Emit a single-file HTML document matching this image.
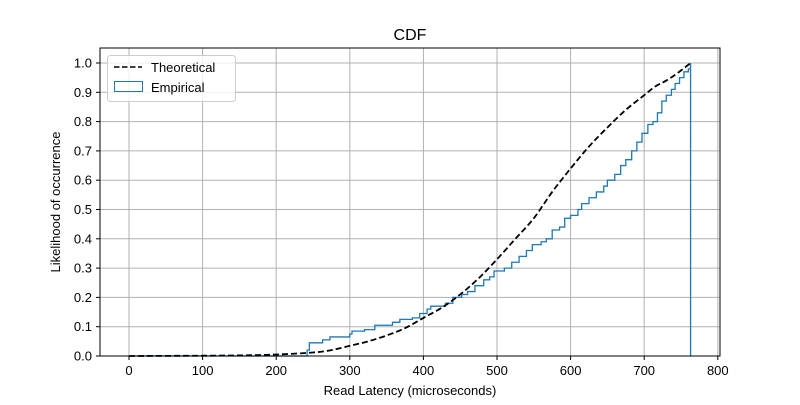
<!DOCTYPE html>
<html><head><meta charset="utf-8"><style>
body{margin:0;background:#fff;font-family:"Liberation Sans","DejaVu Sans",sans-serif;}
</style></head><body>
<svg id="chart" width="800" height="400" xmlns="http://www.w3.org/2000/svg">
<rect width="800" height="400" fill="#fff"/>
<g id="grid"></g>
<g id="series"></g>
<rect x="100" y="48" width="620" height="308" fill="none" stroke="#000" stroke-width="1"/>
<g id="ticks" font-size="13" fill="#000"></g>
<text x="410" y="40" text-anchor="middle" font-size="16">CDF</text>
<text x="410" y="395" text-anchor="middle" font-size="13">Read Latency (microseconds)</text>
<text transform="translate(60,202) rotate(-90)" text-anchor="middle" font-size="13">Likelihood of occurrence</text>
<g>
<rect x="107.5" y="55.5" width="128" height="46" rx="3" fill="#fff" fill-opacity="0.8" stroke="#ccc"/>
<g>
<line x1="114" y1="67" x2="142" y2="67" stroke="#000" stroke-width="1.5" stroke-dasharray="5.5,2.5"/>
<text x="151" y="72" font-size="13">Theoretical</text></g>
<g>
<rect x="114.5" y="81.5" width="28" height="10" fill="none" stroke="#1f77b4"/>
<text x="151" y="92" font-size="13">Empirical</text></g>
</g>
</svg>
<script>
const xTicks=[0,100,200,300,400,500,600,700,800];
const yTicks=[0,0.1,0.2,0.3,0.4,0.5,0.6,0.7,0.8,0.9,1.0];
const theoX=[0,100,150,200,250,275,300,325,350,375,400,425,450,475,500,525,550,575,600,625,650,675,700,715,730,745,763];
const theoY=[0,0.001,0.002,0.005,0.012,0.02,0.035,0.05,0.07,0.095,0.13,0.165,0.21,0.265,0.33,0.4,0.47,0.56,0.64,0.715,0.78,0.84,0.89,0.92,0.94,0.965,1.0];
const empX=[0,242,245,263,273,300,303,320,334,358,368,385,395,405,410,430,440,452,460,470,482,490,496,510,520,530,540,548,560,567,575,585,592,600,610,615,625,635,645,650,660,668,675,683,690,697,705,712,718,724,730,737,742,748,754,760,763];
const empY=[0,0.02,0.045,0.055,0.065,0.075,0.085,0.09,0.105,0.115,0.125,0.13,0.145,0.16,0.17,0.18,0.2,0.21,0.22,0.24,0.26,0.27,0.29,0.3,0.32,0.34,0.36,0.38,0.39,0.4,0.43,0.44,0.47,0.48,0.5,0.52,0.54,0.56,0.58,0.6,0.62,0.65,0.67,0.7,0.73,0.76,0.79,0.8,0.83,0.87,0.89,0.91,0.93,0.95,0.97,0.98,1.0];
const NS="http://www.w3.org/2000/svg";
const xs=v=>129+v*0.736, ys=v=>356-v*293;
const grid=document.getElementById('grid'),ticks=document.getElementById('ticks'),ser=document.getElementById('series');
function mk(t,a,p){const e=document.createElementNS(NS,t);for(const k in a)e.setAttribute(k,a[k]);p.appendChild(e);return e;}
xTicks.forEach(v=>{const x=xs(v);
 const g=mk('line',{x1:x,y1:48,x2:x,y2:356,stroke:'#b0b0b0','stroke-width':1},grid);
 
 
 mk('line',{x1:x,y1:356,x2:x,y2:360,stroke:'#000'},ticks);
 const t=mk('text',{x:x,y:375,'text-anchor':'middle'},ticks);t.textContent=v;
 
 });
yTicks.forEach(v=>{const y=ys(v);
 const g=mk('line',{x1:100,y1:y,x2:720,y2:y,stroke:'#b0b0b0','stroke-width':1},grid);
 
 
 mk('line',{x1:96,y1:y,x2:100,y2:y,stroke:'#000'},ticks);
 const t=mk('text',{x:92,y:y+4.5,'text-anchor':'end'},ticks);t.textContent=v.toFixed(1);
 
 });
let d='M'+xs(empX[0])+','+ys(empY[0]);
for(let i=1;i<empX.length;i++){d+=' H'+xs(empX[i])+' V'+ys(empY[i]);}
d+=' V'+ys(0);
const ep=mk('path',{d:d,fill:'none',stroke:'#1f77b4','stroke-width':1.3},ser);


const P=theoX.map((v,i)=>[xs(v),ys(theoY[i])]);
let td='M'+P[0][0]+','+P[0][1];
for(let i=0;i<P.length-1;i++){const p0=P[Math.max(0,i-1)],p1=P[i],p2=P[i+1],p3=P[Math.min(P.length-1,i+2)];
 const c1=[p1[0]+(p2[0]-p0[0])/6,p1[1]+(p2[1]-p0[1])/6],c2=[p2[0]-(p3[0]-p1[0])/6,p2[1]-(p3[1]-p1[1])/6];
 td+=' C'+c1[0]+','+c1[1]+' '+c2[0]+','+c2[1]+' '+p2[0]+','+p2[1];}
const tp=mk('path',{d:td,fill:'none',stroke:'#000','stroke-width':1.8,'stroke-dasharray':'6,3'},ser);


</script>
</body></html>
